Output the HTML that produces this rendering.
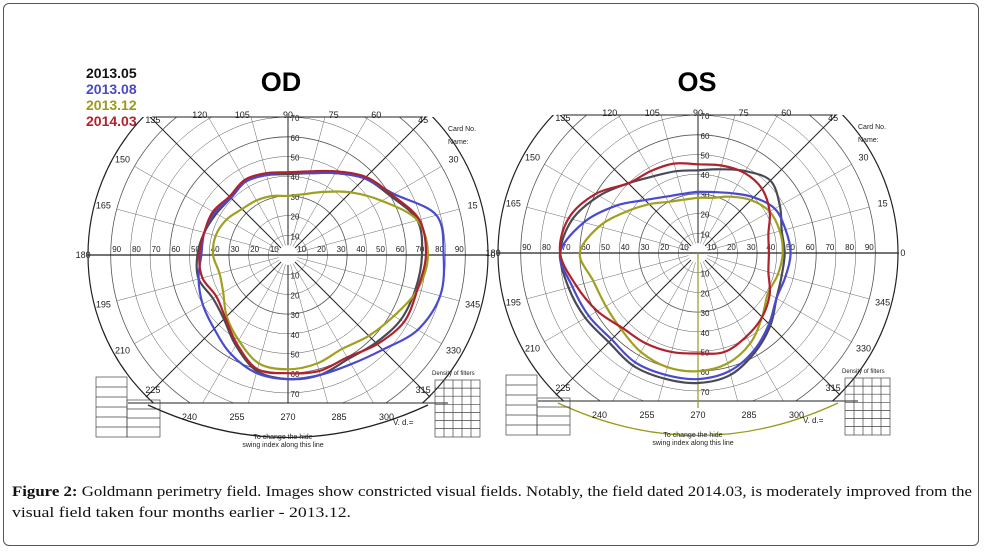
<!DOCTYPE html>
<html><head><meta charset="utf-8"><style>
html,body{margin:0;padding:0;background:#fff;}
body{width:987px;height:552px;overflow:hidden;position:relative;font-family:"Liberation Sans",sans-serif;}
#frame{position:absolute;left:3px;top:3px;width:976px;height:543px;border:1px solid #555;border-radius:6px;box-sizing:border-box;}
</style></head><body>
<div id="frame"></div>
<svg id="fig" width="987" height="552" style="position:absolute;left:0;top:0">
  <g id="legend" font-weight="bold" font-size="14" font-family="Liberation Sans, sans-serif">
    <text x="86" y="78" fill="#111">2013.05</text>
    <text x="86" y="94" fill="#4a4ac4">2013.08</text>
    <text x="86" y="110" fill="#9a9a1c">2013.12</text>
    <text x="86" y="126" fill="#b0222c">2014.03</text>
  </g>
  <text x="281" y="91" font-size="27" font-weight="bold" text-anchor="middle">OD</text>
  <text x="697" y="91" font-size="27" font-weight="bold" text-anchor="middle">OS</text>
  <g id="od"></g>
  <g id="os"></g>
  <g font-family="Liberation Serif, serif" font-size="15" fill="#111">
    <text x="12" y="496" textLength="960" lengthAdjust="spacingAndGlyphs"><tspan font-weight="bold">Figure 2:</tspan> Goldmann perimetry field. Images show constricted visual fields. Notably, the field dated 2014.03, is moderately improved from the</text>
    <text x="12" y="517" textLength="339" lengthAdjust="spacingAndGlyphs">visual field taken four months earlier - 2013.12.</text>
  </g>
</svg>
<script>
// angles (deg, counterclockwise from right), values = isopter radius in degrees of visual field
const angles=[0,15,30,45,60,75,90,105,120,135,150,165,180,195,210,225,240,255,270,285,300,315,330,345];
const odGray=[68,68,60,55,48,43,41,42,43,41,42,44,46,47,44,46,53,61,63,63,61,63,66,67];
const odBlue=[79,78,62,55,48,43,42,42,43,41,43,44,44,47,50,53,58,62,63,63,64,68,76,80];
const odYellow=[71,68,55,45,37,32,30,31,32,33,36,38,38,36,38,44,50,57,58,57,55,58,62,68];
const odRed=[70,69,61,56,49,44,42,43,44,42,44,44,45,45,42,45,52,60,60,61,60,64,68,68];
const osGray=[44,44,48,52,48,44,42,43,45,50,58,66,70,68,66,64,66,66,66,64,58,52,46,44];
const osBlue=[47,46,45,40,35,32,31,31,33,38,48,60,70,66,64,62,64,64,64,62,57,51,46,46];
const osYellow=[43,43,42,38,33,29,28,28,30,35,42,52,60,55,54,55,58,60,60,58,53,46,41,42];
const osRed=[36,37,42,46,47,46,45,47,48,50,60,68,70,64,59,54,53,52,51,52,49,46,42,37];
const ringTicks=[10,20,30,40,50,60,70,80,90];
const angleLabels=[0,15,30,45,60,75,90,105,120,135,150,165,180,195,210,225,240,255,270,285,300,315,330,345];
const NS='http://www.w3.org/2000/svg';
const K=1.97; // px per degree
function mk(p,t,a){const e=document.createElementNS(NS,t);for(const k in a)e.setAttribute(k,a[k]);p.appendChild(e);return e;}
function pt(cx,cy,ang,r){const a=ang*Math.PI/180;return [cx+r*K*Math.cos(a),cy-r*K*Math.sin(a)];}
function curve(cx,cy,vals){
  const P=angles.map((a,i)=>pt(cx,cy,a,vals[i]));const n=P.length;let d='M'+P[0][0].toFixed(1)+','+P[0][1].toFixed(1);
  for(let i=0;i<n;i++){const p0=P[(i-1+n)%n],p1=P[i],p2=P[(i+1)%n],p3=P[(i+2)%n];
    const c1=[p1[0]+(p2[0]-p0[0])/6,p1[1]+(p2[1]-p0[1])/6],c2=[p2[0]-(p3[0]-p1[0])/6,p2[1]-(p3[1]-p1[1])/6];
    d+=' C'+c1.map(v=>v.toFixed(1))+' '+c2.map(v=>v.toFixed(1))+' '+p2.map(v=>v.toFixed(1));}
  return d+'Z';}
function chart(g,cx,cy,series,isOS){
  const id=g.id;
  const cp=mk(g,'clipPath',{id:id+'clip'});mk(cp,'rect',{x:cx-220,y:cy-138,width:440,height:286});
  const grid=mk(g,'g',{'clip-path':'url(#'+id+'clip)',stroke:'#555','stroke-width':0.7,fill:'none'});
  
  
  mk(grid,'circle',{cx:cx,cy:cy,r:200,'stroke-width':1.2,stroke:'#222'});
  ringTicks.forEach(r=>{const c=mk(grid,'circle',{cx:cx,cy:cy,r:r*K,'stroke-width':r%30==0?0.8:0.5});
    
    });
  angleLabels.forEach(a=>{const p1=pt(cx,cy,a,5),p2=pt(cx,cy,a,a%45==0?102:90);
    mk(grid,'line',{x1:p1[0],y1:p1[1],x2:p2[0],y2:p2[1],'stroke-width':a%45==0?1:0.5,stroke:a%45==0?'#222':'#666'});});
  mk(g,'line',{x1:cx-200,y1:cy,x2:cx+200,y2:cy,stroke:'#222','stroke-width':1.2});
  mk(g,'line',{x1:cx-135,y1:cy-138,x2:cx+135,y2:cy-138,stroke:'#222','stroke-width':1});
  mk(g,'path',{d:'M'+(cx-160)+','+(cy+148)+' L'+(cx+160)+','+(cy+148),stroke:'#222','stroke-width':1});
  mk(g,'path',{d:'M'+(cx-140)+','+(cy+150)+' Q'+cx+','+(cy+215)+' '+(cx+140)+','+(cy+150),stroke:isOS?'#9a9a1c':'#222',fill:'none','stroke-width':1.3});
  const lab=mk(g,'g',{'font-size':9,fill:'#222','text-anchor':'middle'});
  angleLabels.forEach(a=>{let r=a%180==0?104:97;
    let p=pt(cx,cy,a,r);
    if(a>=60&&a<=120){p=[pt(cx,cy,a,80)[0]+ (cx-pt(cx,cy,a,80)[0])*-0.12,cy-140];}
    if(a>=240&&a<=300){p=[cx+(pt(cx,cy,a,80)[0]-cx)*1.25,cy+162];}
    const t=mk(lab,'text',{x:p[0],y:p[1]+3});t.textContent=String(a);
    
    });
  ringTicks.forEach(r=>{[-1,1].forEach(s=>{const t=mk(lab,'text',{x:cx+s*(r*K-6),y:cy-3,'font-size':8});t.textContent=r;});
    if(r<=70){const t=mk(lab,'text',{x:cx+7,y:cy-r*K+4,'font-size':8});t.textContent=r;const u=mk(lab,'text',{x:cx+7,y:cy+r*K+4,'font-size':8});u.textContent=r;}});
  const lt=mk(lab,'text',{x:cx-5,y:cy+184,'font-size':7});lt.textContent='To change the hide';
  const lt2=mk(lab,'text',{x:cx-5,y:cy+192,'font-size':7});lt2.textContent='swing index along this line';
  // tables
  const tb=mk(g,'g',{stroke:'#444','stroke-width':0.7,fill:'none'});
  
  
  mk(tb,'rect',{x:cx-192,y:cy+122,width:31,height:60});mk(tb,'rect',{x:cx-161,y:cy+145,width:33,height:37});
  for(let i=1;i<6;i++)mk(tb,'line',{x1:cx-192,y1:cy+122+i*10,x2:cx-161,y2:cy+122+i*10});
  for(let i=1;i<4;i++)mk(tb,'line',{x1:cx-161,y1:cy+145+i*9,x2:cx-128,y2:cy+145+i*9});
  const td=mk(g,'g',{stroke:'#444','stroke-width':0.7,fill:'none'});
  
  
  mk(td,'rect',{x:cx+147,y:cy+125,width:45,height:57});
  for(let i=1;i<7;i++)mk(td,'line',{x1:cx+147,y1:cy+125+i*8.1,x2:cx+192,y2:cy+125+i*8.1});
  for(let i=1;i<5;i++)mk(td,'line',{x1:cx+147+i*9,y1:cy+125,x2:cx+147+i*9,y2:cy+182});
  mk(g,'text',{x:cx+144,y:cy+120,'font-size':6,fill:'#222'}).textContent='Density of filters';
  mk(g,'text',{x:cx+105,y:cy+170,'font-size':8,fill:'#222'}).textContent='V. d.=';
  mk(g,'text',{x:cx+160,y:cy-124,'font-size':7,fill:'#222'}).textContent='Card No.';
  mk(g,'text',{x:cx+160,y:cy-111,'font-size':7,fill:'#222'}).textContent='Name:';
  if(isOS)mk(g,'line',{x1:cx,y1:cy,x2:cx,y2:cy+155,stroke:'#9a9a1c','stroke-width':1.2});
  const names=['isopter-2013-05','isopter-2013-08','isopter-2013-12','isopter-2014-03'];
  const cols=['#4a4a55','#4a4ad0','#a0a020','#b0222c'];
  series.forEach((v,i)=>{const p=mk(g,'path',{d:curve(cx,cy,v),fill:'none',stroke:cols[i],'stroke-width':2.2});
    
    });
}
chart(document.getElementById('od'),288,255,[odGray,odBlue,odYellow,odRed],false);
chart(document.getElementById('os'),698,253,[osGray,osBlue,osYellow,osRed],true);
</script>
</body></html>
